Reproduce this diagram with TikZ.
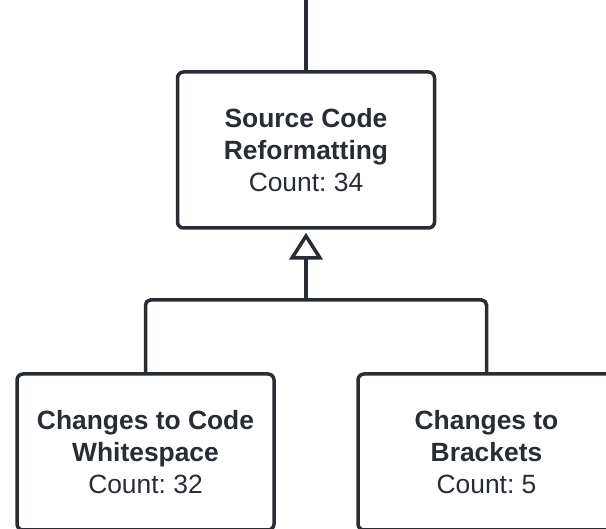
\documentclass[tikz,border=0pt]{standalone}
\usepackage{fontspec}
\setmainfont{Liberation Sans}
\usetikzlibrary{arrows.meta,calc}
\definecolor{ink}{HTML}{282C33}
\frenchspacing
\tikzset{
  classbox/.style={draw=ink, line width=3.5pt, rounded corners=6pt, fill=white,
    minimum width=257pt, minimum height=156pt, align=center, text=ink,
    font=\fontsize{26.4}{32}\selectfont, inner sep=0pt},
  link/.style={draw=ink, line width=3.5pt, rounded corners=5pt},
  inherit/.style={link, -{Triangle[open, length=27pt, width=33.5pt, line width=3.5pt]}, shorten >=3pt}
}
\begin{document}
\begin{tikzpicture}[x=1pt, y=1pt]
  \useasboundingbox (0,0) rectangle (606,529);
  \clip (0,0) rectangle (606,529);

  \node[classbox] (src) at (306,379)
    {\textbf{Source Code}\\\textbf{Reformatting}\\Count: 34};
  \node[classbox] (ws) at (145.5,77)
    {\textbf{Changes to Code}\\\textbf{Whitespace}\\Count: 32};
  \node[classbox] (br) at (486.5,77)
    {\textbf{Changes to}\\\textbf{Brackets}\\Count: 5};

  \coordinate (top) at (306,529);
  \coordinate (joint) at (306,229);

  \draw[link] (top) -- (src.north);
  \draw[link] (ws.north) |- (joint);
  \draw[link] (br.north) |- (joint);
  \draw[inherit] (joint) -- (src.south);
\end{tikzpicture}
\end{document}
